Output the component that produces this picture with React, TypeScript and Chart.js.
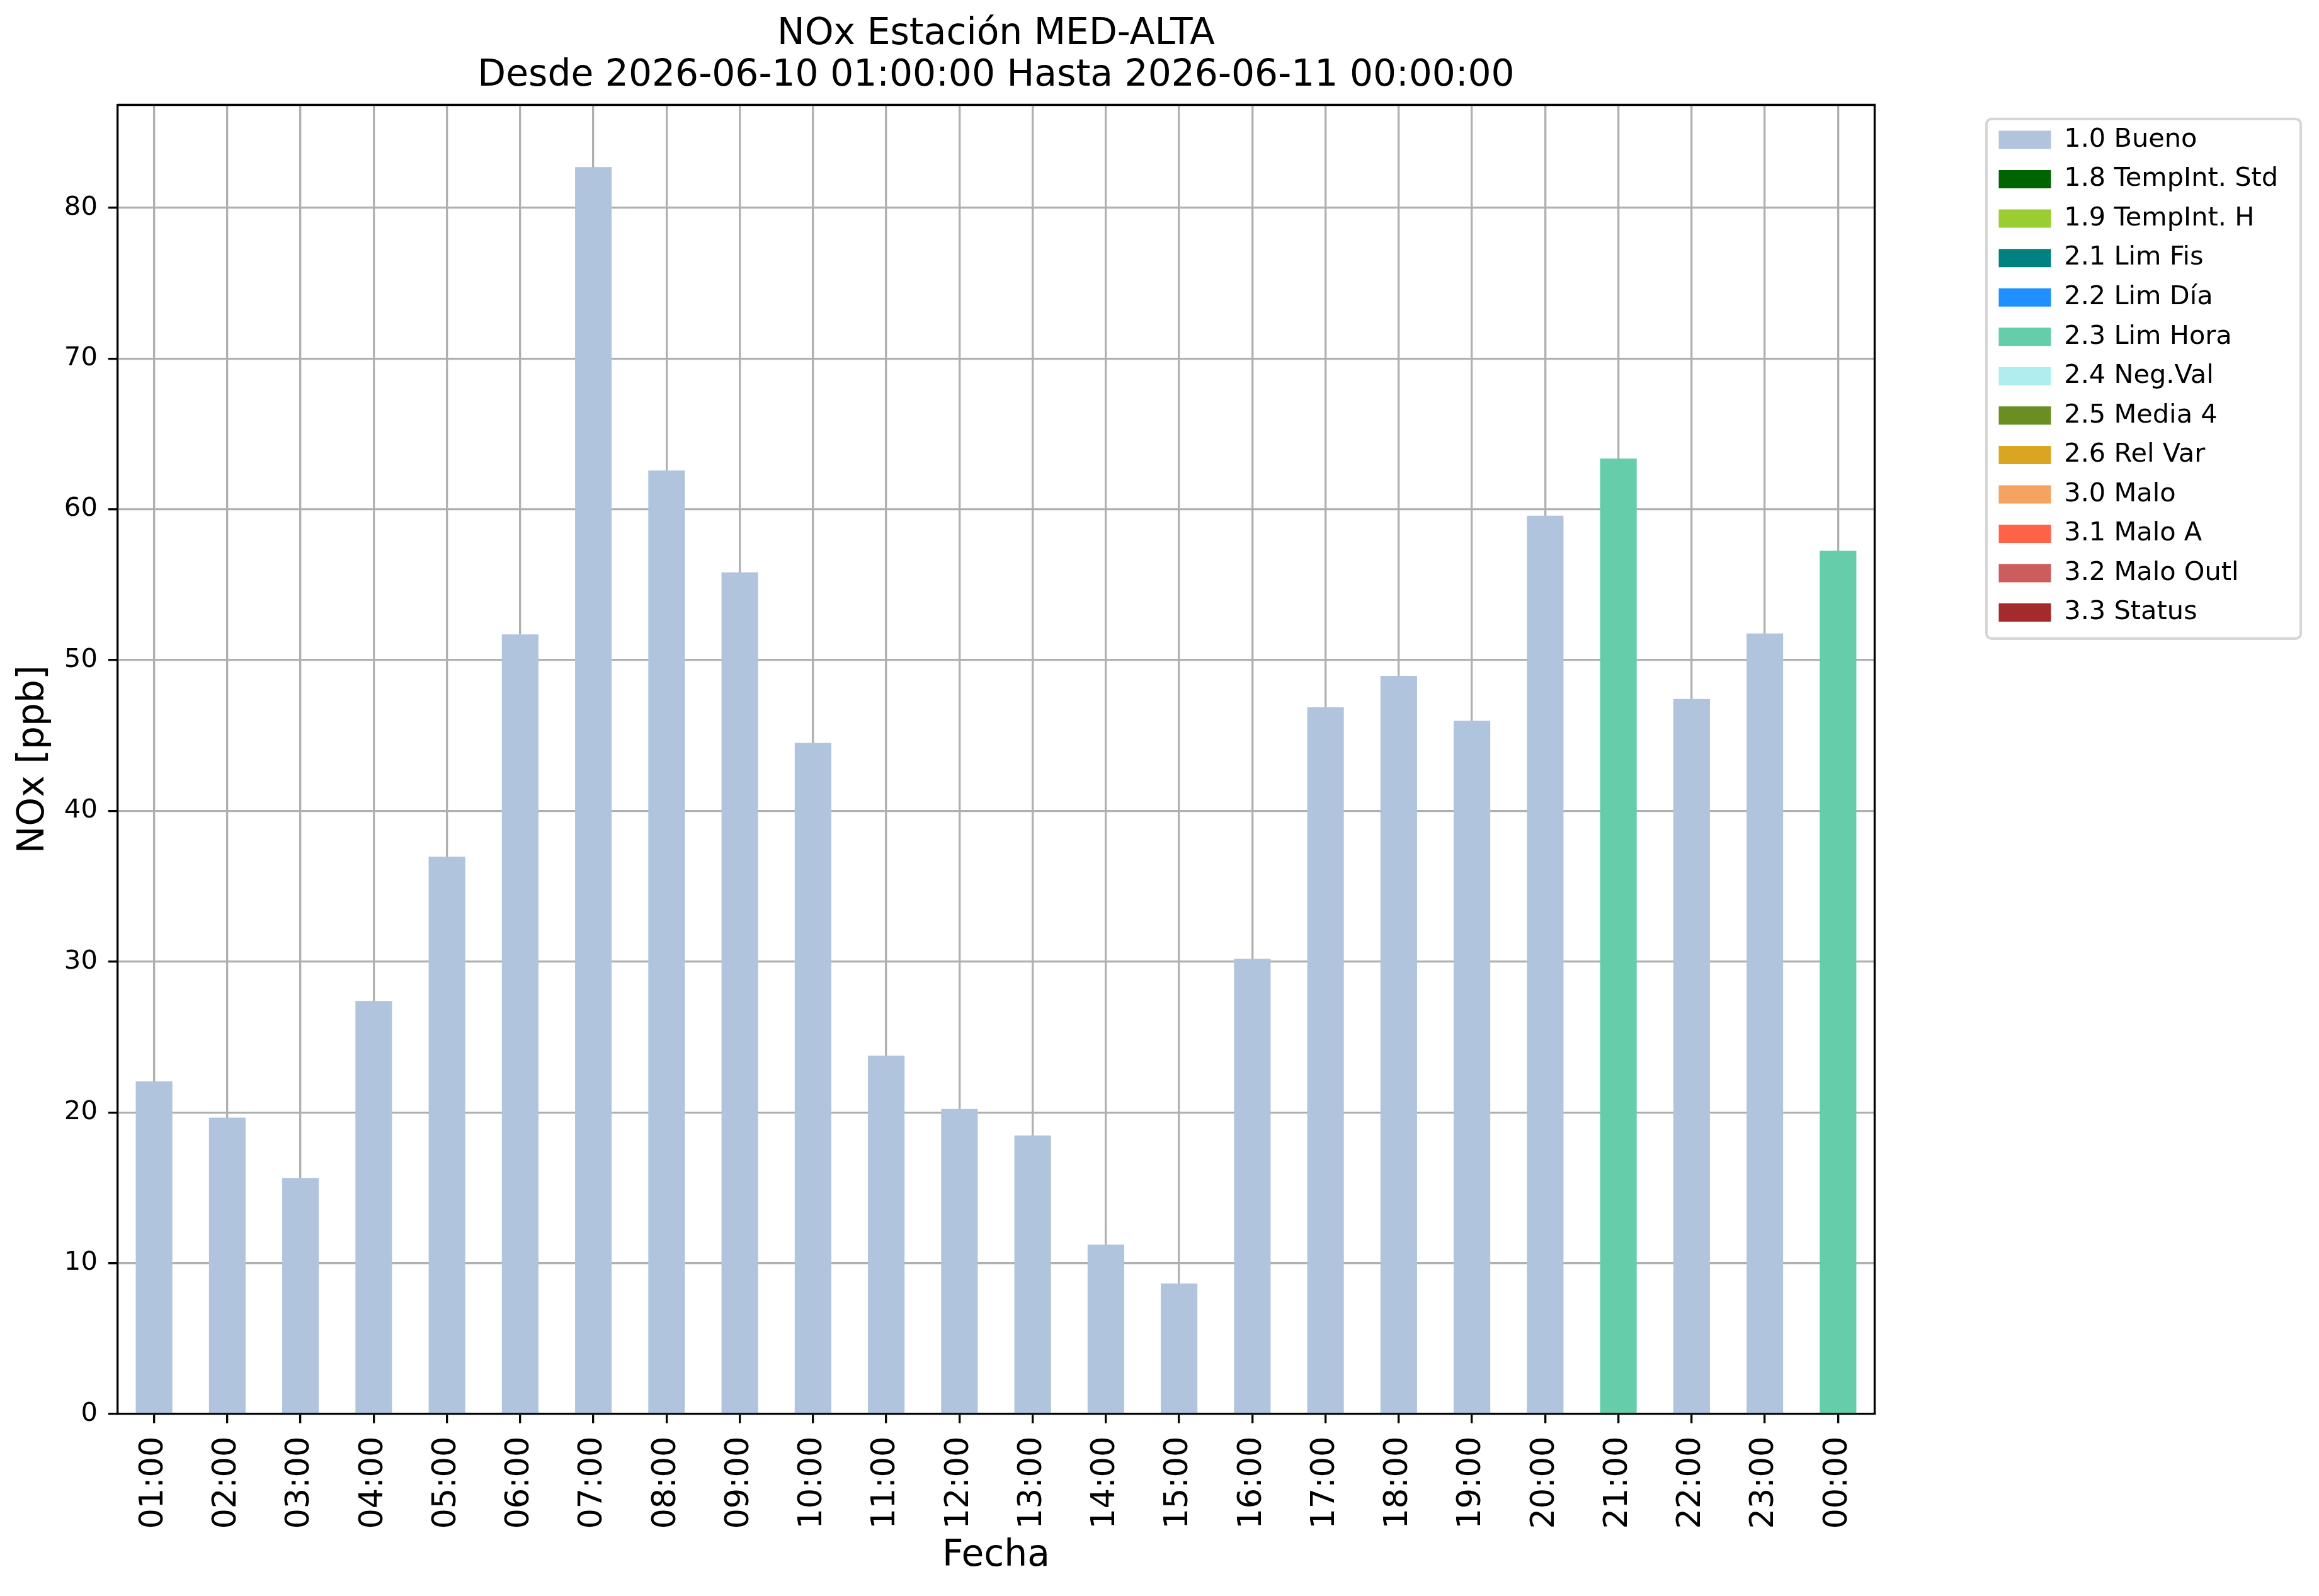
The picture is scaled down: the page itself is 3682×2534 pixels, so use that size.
import { useEffect, useRef } from 'react';
import { Chart, registerables } from 'chart.js';

Chart.register(...registerables);

// ---------- data ----------
const HOURS = [
  '01:00', '02:00', '03:00', '04:00', '05:00', '06:00', '07:00', '08:00',
  '09:00', '10:00', '11:00', '12:00', '13:00', '14:00', '15:00', '16:00',
  '17:00', '18:00', '19:00', '20:00', '21:00', '22:00', '23:00', '00:00',
];

const BUENO: (number | null)[] = [
  22.07, 19.65, 15.65, 27.39, 36.96, 51.7, 82.69, 62.57,
  55.82, 44.51, 23.77, 20.23, 18.47, 11.24, 8.66, 30.19,
  46.87, 48.96, 45.97, 59.57, null, 47.42, 51.76, null,
];

const LIM_HORA: (number | null)[] = [
  null, null, null, null, null, null, null, null,
  null, null, null, null, null, null, null, null,
  null, null, null, null, 63.37, null, null, 57.25,
];

const FLAG_LABELS = [
  '1.0 Bueno', '1.8 TempInt. Std', '1.9 TempInt. H', '2.1 Lim Fis', '2.2 Lim Día',
  '2.3 Lim Hora', '2.4 Neg.Val', '2.5 Media 4', '2.6 Rel Var', '3.0 Malo',
  '3.1 Malo A', '3.2 Malo Outl', '3.3 Status',
];

const FLAG_COLORS = [
  '#b0c4de', '#006400', '#9acd32', '#008080', '#1e90ff',
  '#66cdaa', '#afeeee', '#6b8e23', '#daa520', '#f4a460',
  '#ff6347', '#cd5c5c', '#a52a2a',
];

const TITLE_LINES = ['NOx Estación MED-ALTA', 'Desde 2026-06-10 01:00:00 Hasta 2026-06-11 00:00:00'];
const X_TITLE = 'Fecha';
const Y_TITLE = 'NOx [ppb]';
const Y_MIN = 0;
const Y_MAX = 86.82;
const Y_STEP = 10;

// ---------- layout / style ----------
const W = 3682;
const H = 2534;
const FONT = "'DejaVu Sans', sans-serif";
const AXIS_LEFT = 186.5;       // width of y scale box
const AXIS_BOTTOM_H = 289;     // height of x scale box
const LEGEND_W = 705.5;        // space right of plot area
const LEG_PAD = 21.05;
const LEG_FONT = 41.5;
const LEG_BOX_W = 83;
const LEG_BOX_H = 29;
const LEG_OFFSET_X = 197 - LEG_PAD;   // from plot right to swatch left
const LEG_OFFSET_Y = 34.75 - LEG_PAD; // from plot top to first item top
const LINE_W = 3.33;
const GRID_COLOR = '#b0b0b0';

const DATA_BY_FLAG: Record<string, (number | null)[]> = {
  '1.0 Bueno': BUENO,
  '2.3 Lim Hora': LIM_HORA,
};

export default function App() {
  const ref = useRef<HTMLCanvasElement>(null);

  useEffect(() => {
    document.body.style.margin = '0';
    document.body.style.overflow = 'hidden';
    const canvas = ref.current;
    if (!canvas) return;

    const datasets = FLAG_LABELS.map((label, i) => ({
      label,
      data: DATA_BY_FLAG[label] || [],
      backgroundColor: FLAG_COLORS[i],
      borderWidth: 0,
      categoryPercentage: 1.0,
      barPercentage: 0.5,
    }));

    const layoutPlugin = {
      id: 'mplLayout',
      afterInit(chart: any) {
        const lg = chart.legend;
        if (lg) {
          const origFit = lg.fit.bind(lg);
          lg.fit = () => {
            origFit();
            lg.width = LEGEND_W;
          };
        }
      },
      afterLayout(chart: any) {
        const lg = chart.legend;
        const ca = chart.chartArea;
        if (lg && ca) {
          lg.left = ca.right + LEG_OFFSET_X;
          lg.right = lg.left + lg.width;
          lg.top = ca.top + LEG_OFFSET_Y;
        }
      },
      afterDraw(chart: any) {
        const { ctx, chartArea: ca } = chart;
        ctx.save();
        // top and right spines
        ctx.strokeStyle = '#000';
        ctx.lineWidth = LINE_W;
        ctx.beginPath();
        ctx.moveTo(ca.left, ca.top);
        ctx.lineTo(ca.right, ca.top);
        ctx.lineTo(ca.right, ca.bottom);
        ctx.stroke();
        // legend frame
        const lg = chart.legend;
        if (lg) {
          const x0 = lg.left + LEG_PAD - 19.5;
          const y0 = lg.top + LEG_PAD - 12.3;
          const w = 499;
          const h = 825;
          ctx.strokeStyle = '#d6d6d6';
          ctx.lineWidth = 4.17;
          ctx.beginPath();
          if ((ctx as any).roundRect) (ctx as any).roundRect(x0, y0, w, h, 8);
          else ctx.rect(x0, y0, w, h);
          ctx.stroke();
        }
        ctx.restore();
      },
    };

    Chart.defaults.font.family = FONT;
    Chart.defaults.color = '#000';

    const chart = new Chart(canvas, {
      type: 'bar',
      data: { labels: HOURS, datasets },
      options: {
        responsive: false,
        animation: false,
        devicePixelRatio: 1,
        events: [],
        layout: { padding: 0 },
        plugins: {
          tooltip: { enabled: false },
          title: {
            display: true,
            text: TITLE_LINES,
            fullSize: false,
            color: '#000',
            font: { family: FONT, size: 58.3, weight: 'normal', lineHeight: 1.132 },
            padding: { top: 21.6, bottom: 12.9 },
          },
          legend: {
            display: true,
            position: 'right',
            align: 'start',
            labels: {
              boxWidth: LEG_BOX_W,
              boxHeight: LEG_BOX_H,
              padding: LEG_PAD,
              color: '#000',
              font: { family: FONT, size: LEG_FONT },
            },
          },
        },
        scales: {
          x: {
            type: 'category',
            stacked: true,
            offset: true,
            z: 1,
            grid: {
              offset: false,
              color: GRID_COLOR,
              lineWidth: LINE_W,
              tickLength: 14.6,
              tickColor: '#000',
              tickWidth: LINE_W,
            },
            border: { display: true, color: '#000', width: LINE_W },
            ticks: {
              autoSkip: false,
              minRotation: 90,
              maxRotation: 90,
              padding: 21,
              color: '#000',
              font: { family: FONT, size: 51 },
            },
            title: {
              display: true,
              text: X_TITLE,
              color: '#000',
              font: { family: FONT, size: 58.3 },
              padding: { top: 0, bottom: 28 },
            },
            afterFit: (s: any) => { s.height = AXIS_BOTTOM_H; },
          },
          y: {
            type: 'linear',
            stacked: true,
            min: Y_MIN,
            max: Y_MAX,
            z: 1,
            grid: {
              color: GRID_COLOR,
              lineWidth: LINE_W,
              tickLength: 14.6,
              tickColor: '#000',
              tickWidth: LINE_W,
            },
            border: { display: true, color: '#000', width: LINE_W },
            ticks: {
              stepSize: Y_STEP,
              includeBounds: false,
              padding: 17,
              color: '#000',
              font: { family: FONT, size: 41.7 },
            },
            title: {
              display: true,
              text: Y_TITLE,
              color: '#000',
              font: { family: FONT, size: 58.3 },
              padding: { top: 19, bottom: 0 },
            },
            afterFit: (s: any) => { s.width = AXIS_LEFT; },
          },
        },
      } as any,
      plugins: [layoutPlugin],
    });

    return () => chart.destroy();
  }, []);

  return (
    <div style={{ position: 'absolute', left: 0, top: 0, width: W, height: H, background: '#fff' }}>
      <canvas ref={ref} width={W} height={H} style={{ display: 'block', width: W + 'px', height: H + 'px' }} />
    </div>
  );
}
